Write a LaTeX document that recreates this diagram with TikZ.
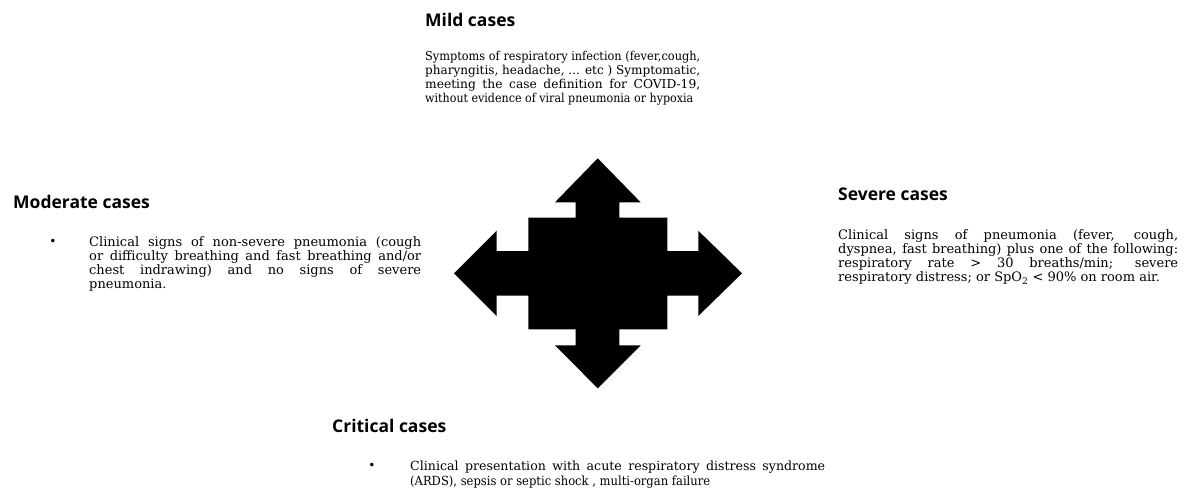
\documentclass[tikz,border=0pt]{standalone}
\usepackage{fontspec}
\usepackage{graphicx}
\setmainfont{DejaVu Serif}
\newfontfamily\headfont{Open Sans}
\newlength\lnw
\newcommand\jusline[2]{\settowidth\lnw{#2}\ifdim\lnw<#1\relax\makebox[#1][s]{#2}\else\resizebox{#1}{\height}{#2}\fi}
\newcommand\natline[2]{\settowidth\lnw{#2}\ifdim\lnw>#1\relax\resizebox{#1}{\height}{#2}\else#2\fi}
\tikzset{
  head/.style={font=\headfont\bfseries\fontsize{17.5}{20}\selectfont, anchor=base west, inner sep=0pt},
  body/.style={font=\fontsize{13}{14}\selectfont, anchor=base west, inner sep=0pt},
  bodys/.style={body, font=\fontsize{12.25}{14}\selectfont},
  bodym/.style={body, font=\fontsize{12.6}{14}\selectfont},
  bul/.style={font=\fontsize{12}{12}\selectfont, inner sep=0pt},
  bigarrow/.style={fill=black, draw=none}
}
\begin{document}
\begin{tikzpicture}[x=1pt,y=-1pt]
\useasboundingbox (0,0) rectangle (1192,499);
% central four-way arrow
\fill[bigarrow] (597.7,158.3) -- (640.7,202.3) -- (619.3,202.3) -- (619.3,217.7)
  -- (667.3,217.7) -- (667.3,251) -- (698.3,251) -- (698.3,230.7) -- (742,273.3)
  -- (698.3,316) -- (698.3,295.7) -- (667.3,295.7) -- (667.3,329.3) -- (619.3,329.3)
  -- (619.3,345.3) -- (640.7,345.3) -- (597.7,388.3) -- (555,345.3) -- (575.7,345.3)
  -- (575.7,329.3) -- (528.3,329.3) -- (528.3,295.7) -- (496.7,295.7) -- (496.7,316)
  -- (454,273.3) -- (496.7,230.7) -- (496.7,251) -- (528.3,251) -- (528.3,217.7)
  -- (575.7,217.7) -- (575.7,202.3) -- (555,202.3) -- cycle;
% Mild
\node[head] (mildh) at (425,26) {Mild cases};
\node[bodys] (mild1) at (425,60.5) {\jusline{275pt}{Symptoms of respiratory infection (fever,cough,}};
\node[bodys] (mild2) at (425,74.5) {\jusline{275pt}{pharyngitis, headache, ... etc ) Symptomatic,}};
\node[bodys] (mild3) at (425,88.5) {\jusline{275pt}{meeting the case definition for COVID-19,}};
\node[bodys] (mild4) at (425,102.5) {\natline{268pt}{without evidence of viral pneumonia or hypoxia}};
% Moderate
\node[head] (modh) at (13,208) {Moderate cases};
\node[bul] (modb) at (53,242) {•};
\node[body] (mod1) at (89,246.5) {\jusline{332pt}{Clinical signs of non-severe pneumonia (cough}};
\node[body] (mod2) at (89,260.5) {\jusline{332pt}{or difficulty breathing and fast breathing and/or}};
\node[body] (mod3) at (89,274.5) {\jusline{332pt}{chest indrawing) and no signs of severe}};
\node[body] (mod4) at (89,288.5) {pneumonia.};
% Severe
\node[head] (sevh) at (838,200) {Severe cases};
\node[body] (sev1) at (838,239.5) {\jusline{340pt}{Clinical signs of pneumonia (fever, cough,}};
\node[body] (sev2) at (838,253.5) {\jusline{340pt}{dyspnea, fast breathing) plus one of the following:}};
\node[body] (sev3) at (838,267.5) {\jusline{340pt}{respiratory rate > 30 breaths/min; severe}};
\node[body] (sev4) at (838,281.5) {\natline{342pt}{respiratory distress; or SpO\textsubscript{2} < 90\% on room air.}};
% Critical
\node[head] (crith) at (332,432) {Critical cases};
\node[bul] (critb) at (372,466) {•};
\node[bodym] (crit1) at (410,470.5) {\jusline{415pt}{Clinical presentation with acute respiratory distress syndrome}};
\node[bodym] (crit2) at (410,485) {\natline{300pt}{(ARDS), sepsis or septic shock , multi-organ failure}};
\end{tikzpicture}
\end{document}
